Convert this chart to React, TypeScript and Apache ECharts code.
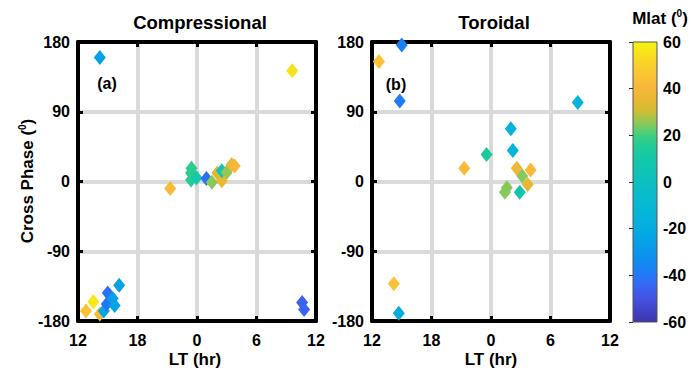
import React, { useEffect, useRef } from 'react';
import * as echarts from 'echarts';

// Axis ticks
const ltTickLabels = [12, 18, 0, 6, 12];
const phaseTicks = [-180, -90, 0, 90, 180];
const mlatTicks = [-60, -40, -20, 0, 20, 40, 60];

// Panel (a) Compressional: local time (hr), cross phase (deg), Mlat (deg)
const compLT = [14.2, 9.6, 21.3, 23.45, 23.4, 23.4, 23.95, 0.95, 1.5, 2.05, 2.5, 2.5, 3.0, 3.5, 3.8,
  12.8, 14.2, 13.55, 14.6, 15.0, 14.9, 15.5, 15.7, 16.15, 10.6, 10.8];
const compPhase = [160, 143, -9, 17, 11, 2, 5, 4, -1, 11, 1, 14, 12, 22, 20,
  -167, -171, -155, -167, -144, -158, -151, -160, -134, -156, -165];
const compMlat = [-25, 55, 42, 17, 17, 16, 10, -42, 25, 33, 36, 8, 26, 36, 40,
  45, 42, 57, -22, -42, -40, -25, -25, -25, -45, -45];

// Panel (b) Toroidal
const toroLT = [15.0, 12.7, 14.8, 8.75, 2.0, 2.2, 23.55, 21.3, 2.6, 4.0, 3.15, 3.7, 1.6, 1.4, 2.9, 14.2, 14.7];
const toroPhase = [176, 155, 104, 102, 68, 40, 35, 17, 17, 15, 7, -4, -8, -14, -14, -132, -170];
const toroMlat = [-38, 45, -38, -15, -15, -15, 13, 42, 38, 42, 25, 35, 25, 25, 8, 45, -20];

// Colormap (low -> high), parula-like
const palette = [
  '#3D35AC', '#4142C8', '#4452E2', '#3A63F2', '#2478F8', '#1288F2', '#0A96EC', '#06A2E6',
  '#05ACE0', '#05B4DA', '#06B9D2', '#08BDCA', '#0CC0C0', '#10C4B4', '#14C8A8', '#1ECC98',
  '#3ECF80', '#88C95C', '#CCBE36', '#E8B830', '#F7B63C', '#FAC234', '#FAD02A', '#F8E21C', '#F8F40E',
];

const FONT = 'Liberation Sans, Arial, Helvetica, sans-serif';

function toAxis(lt: number) {
  return lt < 12 ? lt + 24 : lt;
}

function build(lt: number[], ph: number[], ml: number[]) {
  return lt.map((v, i) => [toAxis(v), ph[i], ml[i]]);
}

export default function App() {
  const ref = useRef<HTMLDivElement>(null);
  useEffect(() => {
    if (!ref.current) return;
    const chart = echarts.init(ref.current, undefined, { renderer: 'svg' });

    const grids = [
      { left: 78, top: 42, width: 238, height: 279 },
      { left: 372, top: 42, width: 238, height: 279 },
      { left: 633, top: 42, width: 24, height: 280 },
    ];

    const lineBlack = () => ({ show: true, onZero: false, lineStyle: { color: '#000', width: 4 } });
    const tick = () => ({ show: true, inside: true, length: 5, lineStyle: { color: '#000', width: 3 } });
    const split = () => ({ show: true, lineStyle: { color: '#D9D9D9', width: 3.5, type: 'solid' } });
    const label = () => ({ fontSize: 16, fontWeight: 'bold', color: '#000', fontFamily: FONT });

    const xAxes: any[] = [];
    const yAxes: any[] = [];
    [0, 1].forEach((g) => {
      xAxes.push({
        type: 'value', gridIndex: g, min: 12, max: 36, interval: 6, position: 'bottom',
        axisLine: lineBlack(), axisTick: tick(), splitLine: split(),
        axisLabel: { ...label(), margin: 11, formatter: (v: number) => String(ltTickLabels[(v - 12) / 6]) },
      });
      xAxes.push({
        type: 'value', gridIndex: g, min: 12, max: 36, interval: 6, position: 'top',
        axisLine: lineBlack(), axisTick: tick(), splitLine: split(), axisLabel: { show: false },
      });
      yAxes.push({
        type: 'value', gridIndex: g, min: phaseTicks[0], max: phaseTicks[phaseTicks.length - 1], interval: 90,
        position: 'left', axisLine: lineBlack(), axisTick: tick(), splitLine: split(),
        axisLabel: { ...label(), margin: 8 },
      });
      yAxes.push({
        type: 'value', gridIndex: g, min: phaseTicks[0], max: phaseTicks[phaseTicks.length - 1], interval: 90,
        position: 'right', axisLine: lineBlack(), axisTick: tick(), splitLine: split(), axisLabel: { show: false },
      });
    });
    xAxes.push({ type: 'value', gridIndex: 2, min: 0, max: 1, show: false });
    yAxes.push({
      type: 'value', gridIndex: 2, min: mlatTicks[0], max: mlatTicks[mlatTicks.length - 1], interval: 20,
      position: 'right', z: 10,
      axisLine: { show: false },
      axisTick: { show: true, inside: true, length: 4, lineStyle: { color: '#333', width: 1 } },
      splitLine: { show: false },
      axisLabel: { ...label(), margin: 6 },
    });

    const n = palette.length;
    const stops = palette.map((c, i) => ({ offset: 1 - i / (n - 1), color: c })).reverse();

    const scatterBase = {
      type: 'scatter',
      symbol: 'diamond',
      symbolSize: [12, 15],
      clip: false,
      itemStyle: { opacity: 1 },
      z: 3,
    };

    const txt = (text: string, x: number, y: number, size: number) => ({
      type: 'text', x, y,
      style: { text, textAlign: 'center', textVerticalAlign: 'middle', fontSize: size, fontWeight: 'bold', fontFamily: FONT, fill: '#000' },
    });

    const option: any = {
      animation: false,
      backgroundColor: '#fff',
      grid: grids,
      xAxis: xAxes,
      yAxis: yAxes,
      visualMap: {
        type: 'continuous', show: false, min: mlatTicks[0], max: mlatTicks[mlatTicks.length - 1],
        dimension: 2, seriesIndex: [0, 1], inRange: { color: palette },
      },
      series: [
        { ...scatterBase, name: 'Compressional', xAxisIndex: 0, yAxisIndex: 0, data: build(compLT, compPhase, compMlat) },
        { ...scatterBase, name: 'Toroidal', xAxisIndex: 2, yAxisIndex: 2, data: build(toroLT, toroPhase, toroMlat) },
        {
          type: 'custom', xAxisIndex: 4, yAxisIndex: 4, silent: true, z: 1,
          data: [[0, mlatTicks[0], 1, mlatTicks[mlatTicks.length - 1]]],
          renderItem: (_p: any, api: any) => {
            const a = api.coord([api.value(0), api.value(3)]);
            const b = api.coord([api.value(2), api.value(1)]);
            return {
              type: 'rect',
              shape: { x: a[0], y: a[1], width: b[0] - a[0], height: b[1] - a[1] },
              style: {
                fill: new echarts.graphic.LinearGradient(0, 0, 0, 1, stops),
                stroke: '#555', lineWidth: 1,
              },
            };
          },
        },
      ],
      graphic: [
        txt('Compressional', 200, 22, 18.5),
        txt('Toroidal', 494, 22, 18.5),
        txt('(a)', 107, 83, 16),
        txt('(b)', 396, 84, 16),
        txt('LT (hr)', 195, 359, 17),
        txt('LT (hr)', 491, 359, 17),
        {
          type: 'text', x: 27, y: 181, rotation: Math.PI / 2,
          style: {
            text: '{a|Cross Phase (}{s|0}{a|)}', textAlign: 'center', textVerticalAlign: 'middle',
            rich: {
              a: { fontSize: 17, fontWeight: 'bold', fontFamily: FONT, fill: '#000', lineHeight: 20 },
              s: { fontSize: 10, fontWeight: 'bold', fontFamily: FONT, fill: '#000', lineHeight: 20, verticalAlign: 'top', padding: [0, 0, 8, 0] },
            },
          },
        },
        {
          type: 'text', x: 660, y: 18,
          style: {
            text: '{a|Mlat (}{s|0}{a|)}', textAlign: 'center', textVerticalAlign: 'middle',
            rich: {
              a: { fontSize: 17, fontWeight: 'bold', fontFamily: FONT, fill: '#000', lineHeight: 20 },
              s: { fontSize: 10, fontWeight: 'bold', fontFamily: FONT, fill: '#000', lineHeight: 20, verticalAlign: 'top', padding: [0, 0, 8, 0] },
            },
          },
        },
      ],
    };
    chart.setOption(option);
    return () => chart.dispose();
  }, []);

  return <div ref={ref} style={{ position: 'fixed', left: 0, top: 0, width: 691, height: 374 }} />;
}
